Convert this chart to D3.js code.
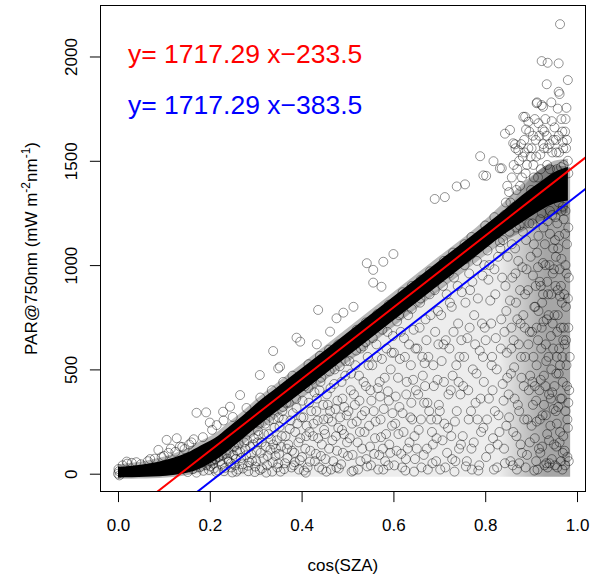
<!DOCTYPE html>
<html>
<head>
<meta charset="utf-8">
<script src="https://cdn.jsdelivr.net/npm/d3@7"></script>
<style>
  body { margin: 0; background: #fff; }
  text { font-family: "Liberation Sans", Arial, Helvetica, sans-serif; }
</style>
</head>
<body>
<div id="chart"></div>
<script>
var xTicks = [0, 0.2, 0.4, 0.6, 0.8, 1.0];
var yTicks = [0, 500, 1000, 1500, 2000];

var slope = 1717.29;
var redIntercept = -233.5;
var blueIntercept = -383.5;

// dense clear-sky ridge (cos(SZA), PAR)
var coreX    = [0, 0.03, 0.06, 0.09, 0.12, 0.15, 0.18, 0.21, 0.24, 0.27, 0.30, 0.35, 0.40, 0.50, 0.60, 0.70, 0.78, 0.84, 0.88, 0.92, 0.95, 0.98];
var coreHigh = [32, 38, 46, 58, 76, 100, 135, 170, 222, 275, 334, 420, 505, 677, 849, 1021, 1158, 1262, 1335, 1400, 1445, 1470];
var coreLow  = [-18, -17, -15, -12, -6, 4, 26, 62, 110, 165, 220, 306, 391, 563, 735, 907, 1044, 1147, 1205, 1262, 1295, 1310];
var haloHigh = [45, 52, 62, 76, 96, 122, 158, 192, 244, 297, 356, 442, 527, 699, 871, 1043, 1180, 1300, 1390, 1460, 1500, 1510];
var haloLow  = [-25, -24, -23, -21, -16, -8, 10, 37, 82, 135, 190, 276, 361, 533, 705, 877, 1014, 1110, 1160, 1210, 1240, 1250];

// overall tone of the cloud below the ridge
var shadeX      = [0.13, 0.2, 0.25, 0.3, 0.4, 0.5, 0.6, 0.7, 0.8, 0.86, 0.9, 0.95, 0.985];
var shadeTop    = [-5, 50, 100, 175, 370, 548, 720, 890, 1050, 1160, 1230, 1290, 1300];
var shadeBottom = [-5, -10, -15, -15, -15, -15, -15, -15, -15, -15, -15, -15, -15];
var denseX      = [0.83, 0.86, 0.9, 0.94, 0.985];
var denseTop    = [1150, 1300, 1420, 1480, 1470];
var denseBottom = [-15, -15, -15, -15, -15];

var cloudBelow = [
  [0.152,8],[0.163,22],[0.171,5],[0.178,30],[0.186,14],[0.193,40],[0.198,18],
  [0.204,62],[0.209,25],[0.214,8],[0.219,80],[0.226,44],[0.231,12],[0.236,95],[0.241,58],[0.247,30],[0.249,6],
  [0.253,128],[0.257,70],[0.262,20],[0.266,105],[0.271,45],[0.275,150],[0.279,88],[0.284,12],[0.288,130],[0.292,62],[0.296,170],[0.299,34],
  [0.302,110],[0.305,205],[0.309,18],[0.313,150],[0.317,72],[0.321,240],[0.325,40],[0.328,190],[0.332,115],[0.336,10],[0.339,262],[0.343,85],[0.346,160],[0.349,48],
  [0.352,225],[0.355,130],[0.358,300],[0.362,22],[0.365,180],[0.369,75],[0.372,340],[0.376,255],[0.379,110],[0.383,40],[0.386,200],[0.389,315],[0.393,150],[0.396,65],[0.399,270],
  [0.402,350],[0.405,15],[0.408,120],[0.411,230],[0.415,410],[0.418,58],[0.421,300],[0.425,180],[0.428,390],[0.431,95],[0.435,255],[0.438,30],[0.441,440],[0.444,140],[0.447,330],[0.449,210],
  [0.452,70],[0.455,380],[0.458,265],[0.461,490],[0.464,20],[0.467,160],[0.471,430],[0.474,310],[0.477,110],[0.48,220],[0.483,515],[0.486,45],[0.489,360],[0.492,190],[0.495,470],[0.498,280],
  [0.501,85],[0.504,540],[0.507,400],[0.51,240],[0.513,15],[0.516,330],[0.519,590],[0.522,150],[0.525,470],[0.528,60],[0.531,280],[0.534,610],[0.537,200],[0.54,420],[0.543,35],[0.546,520],[0.549,130],
  [0.552,350],[0.555,650],[0.558,95],[0.561,250],[0.564,560],[0.567,20],[0.57,440],[0.573,175],[0.576,690],[0.579,310],[0.582,60],[0.585,600],[0.588,395],[0.591,140],[0.594,500],[0.597,230],[0.599,660],
  [0.602,40],[0.605,370],[0.608,730],[0.611,190],[0.614,550],[0.617,95],[0.62,290],[0.623,650],[0.626,15],[0.629,440],[0.632,760],[0.635,150],[0.638,520],[0.641,260],[0.644,690],[0.647,70],[0.649,400],
  [0.652,600],[0.655,210],[0.658,820],[0.661,30],[0.664,470],[0.667,340],[0.67,740],[0.673,120],[0.676,560],[0.679,860],[0.682,260],[0.685,50],[0.688,420],[0.691,680],[0.694,170],[0.697,780],[0.699,330],
  [0.702,20],[0.705,540],[0.708,900],[0.711,240],[0.714,640],[0.717,100],[0.72,380],[0.723,820],[0.726,180],[0.729,470],[0.732,940],[0.735,60],[0.738,300],[0.741,720],[0.744,560],[0.747,140],[0.749,870],
  [0.752,420],[0.755,1000],[0.758,35],[0.761,650],[0.764,260],[0.767,880],[0.77,120],[0.773,500],[0.776,760],[0.779,340],[0.782,1020],[0.785,15],[0.788,590],[0.791,200],[0.794,950],[0.797,440],[0.799,700],
  [0.802,80],[0.805,1070],[0.808,360],[0.811,830],[0.814,520],[0.817,170],[0.82,980],[0.823,650],[0.826,30],[0.829,280],[0.832,1110],[0.835,740],[0.838,430],[0.841,120],[0.844,900],[0.847,580],[0.849,1040],[0.846,230],
  [0.851,380],[0.853,1160],[0.855,60],[0.857,700],[0.859,940],[0.861,200],[0.863,510],[0.865,1080],[0.867,820],[0.869,20],[0.871,330],[0.873,620],[0.875,1190],[0.877,140],[0.879,460],[0.881,990],[0.883,760],[0.885,260],[0.887,560],[0.889,1120],[0.891,90],[0.893,880],[0.895,400],[0.897,680],[0.899,1040],
  [0.901,230],[0.903,1200],[0.905,560],[0.907,15],[0.909,800],[0.911,350],[0.913,1060],[0.915,640],[0.917,120],[0.919,920],[0.921,450],[0.923,1250],[0.925,280],[0.927,730],[0.929,40],[0.931,1000],[0.933,540],[0.935,190],[0.937,860],[0.939,380],[0.941,1150],[0.943,660],[0.945,70],[0.947,960],[0.949,310],
  [0.904,950],[0.908,420],[0.912,700],[0.916,1140],[0.92,100],[0.924,820],[0.928,330],[0.932,620],[0.936,1210],[0.94,50],[0.944,500],[0.948,1080],[0.912,250],[0.926,1010],[0.938,760],[0.946,390],[0.95,980],
  [0.951,760],[0.953,1230],[0.955,480],[0.957,30],[0.959,1080],[0.961,600],[0.963,200],[0.965,900],[0.967,360],[0.969,1280],[0.971,700],[0.973,110],[0.975,1000],[0.977,520],[0.979,260],[0.98,840],[0.981,1180],[0.982,60],[0.978,420],[0.974,1150],[0.97,640],[0.966,1030],[0.962,150],[0.958,880],[0.954,300],[0.952,1120],[0.956,560],[0.976,800],[0.968,20],[0.96,1300]
];

var cloudBelow2 = [
  [0.201,35],[0.207,48],[0.212,70],[0.218,15],[0.223,60],[0.228,88],[0.233,28],[0.238,72],[0.243,100],[0.246,50],
  [0.251,90],[0.255,40],[0.259,110],[0.263,140],[0.268,75],[0.272,25],[0.277,118],[0.281,160],[0.286,55],[0.29,95],[0.294,140],[0.298,8],[0.258,10],[0.283,38],
  [0.301,60],[0.304,150],[0.307,240],[0.311,100],[0.314,25],[0.318,190],[0.322,130],[0.326,85],[0.329,255],[0.333,165],[0.337,55],[0.341,220],[0.344,120],[0.347,30],[0.35,270],[0.323,5],[0.338,140],[0.306,185],
  [0.351,95],[0.354,10],[0.357,180],[0.361,260],[0.364,50],[0.367,340],[0.371,140],[0.374,215],[0.378,30],[0.381,290],[0.384,100],[0.388,360],[0.391,240],[0.394,20],[0.397,170],[0.368,120],[0.385,55],[0.359,320],
  [0.401,80],[0.404,270],[0.407,420],[0.41,180],[0.413,30],[0.416,340],[0.419,110],[0.423,450],[0.426,240],[0.429,60],[0.432,300],[0.436,170],[0.439,400],[0.442,85],[0.445,20],[0.448,260],[0.417,200],[0.433,360],[0.409,5],[0.443,460],
  [0.451,190],[0.454,10],[0.457,330],[0.46,120],[0.463,410],[0.466,250],[0.469,60],[0.472,500],[0.475,180],[0.478,350],[0.481,25],[0.484,270],[0.487,440],[0.49,100],[0.493,320],[0.496,540],[0.499,150],[0.462,300],[0.476,30],[0.488,210],
  [0.502,300],[0.505,170],[0.508,480],[0.511,90],[0.514,380],[0.517,520],[0.52,250],[0.523,20],[0.526,350],[0.529,600],[0.532,120],[0.535,440],[0.538,300],[0.541,70],[0.544,560],[0.547,230],[0.55,400],[0.509,10],[0.527,200],[0.539,630],
  [0.551,40],[0.554,520],[0.557,300],[0.56,170],[0.563,620],[0.566,410],[0.569,90],[0.572,260],[0.575,550],[0.578,20],[0.581,460],[0.584,190],[0.587,680],[0.59,350],[0.593,100],[0.596,580],[0.598,290],[0.562,710],[0.577,120],[0.589,40],[0.571,370],
  [0.601,580],[0.604,240],[0.607,110],[0.61,460],[0.613,320],[0.616,680],[0.619,30],[0.622,200],[0.625,560],[0.628,380],[0.631,120],[0.634,620],[0.637,270],[0.64,790],[0.643,450],[0.646,180],[0.648,600],[0.612,760],[0.627,70],[0.639,340],[0.645,10],
  [0.651,120],[0.654,380],[0.657,700],[0.66,260],[0.663,560],[0.666,90],[0.669,420],[0.672,640],[0.675,20],[0.678,300],[0.681,760],[0.684,200],[0.687,520],[0.69,880],[0.693,60],[0.696,450],[0.698,620],[0.659,840],[0.674,340],[0.686,140],[0.695,260],[0.668,530],
  [0.701,300],[0.704,760],[0.707,160],[0.71,440],[0.713,30],[0.716,860],[0.719,220],[0.722,600],[0.725,400],[0.728,70],[0.731,680],[0.734,250],[0.737,520],[0.74,900],[0.743,120],[0.746,380],[0.748,640],[0.709,620],[0.721,960],[0.733,10],[0.742,440],[0.727,800],
  [0.751,180],[0.754,560],[0.757,820],[0.76,60],[0.763,400],[0.766,700],[0.769,300],[0.772,920],[0.775,150],[0.778,620],[0.781,480],[0.784,840],[0.787,40],[0.79,360],[0.793,720],[0.796,220],[0.798,1000],[0.759,1030],[0.771,20],[0.783,260],[0.795,560],[0.765,960],
  [0.801,640],[0.804,260],[0.807,930],[0.81,120],[0.813,720],[0.816,400],[0.819,20],[0.822,860],[0.825,500],[0.828,1040],[0.831,200],[0.834,600],[0.837,940],[0.84,350],[0.843,50],[0.846,780],[0.848,460],[0.809,1000],[0.821,300],[0.833,1080],[0.842,680],[0.815,560],[0.827,140],[0.839,1120],
  [0.852,270],[0.854,830],[0.856,480],[0.858,1100],[0.86,40],[0.862,640],[0.864,360],[0.866,960],[0.868,180],[0.87,740],[0.872,1020],[0.874,300],[0.876,880],[0.878,560],[0.88,100],[0.882,1160],[0.884,420],[0.886,700],[0.888,30],[0.89,980],[0.892,260],[0.894,620],[0.896,1200],[0.898,470],[0.857,600],[0.867,1180],[0.877,720],[0.887,860],[0.897,150],[0.874,50],
  [0.902,680],[0.904,330],[0.906,1100],[0.908,170],[0.91,900],[0.912,520],[0.914,20],[0.916,780],[0.918,400],[0.92,1220],[0.922,600],[0.924,130],[0.926,860],[0.928,470],[0.93,1100],[0.932,280],[0.934,740],[0.936,30],[0.938,560],[0.94,1000],
  [0.942,230],[0.944,860],[0.946,1240],[0.948,600],[0.95,140],[0.903,440],[0.907,800],[0.911,60],[0.915,990],[0.919,260],[0.923,700],[0.927,1180],[0.931,420],[0.935,920],[0.939,160],[0.943,360],[0.947,720],[0.921,900],[0.933,50],[0.941,1260],
  [0.951,420],[0.953,900],[0.955,130],[0.957,680],[0.959,320],[0.961,1140],[0.963,520],[0.965,60],[0.967,820],[0.969,440],[0.971,1220],[0.973,620],[0.975,300],[0.977,960],[0.979,80],[0.981,700],[0.983,400],[0.952,40],[0.954,1040],[0.956,240],
  [0.958,760],[0.96,480],[0.962,980],[0.964,360],[0.966,1260],[0.968,560],[0.97,180],[0.972,860],[0.974,40],[0.976,640],[0.978,1100],[0.98,220],[0.982,940],[0.984,560],[0.957,1200],[0.963,850],[0.969,100],[0.975,1260],[0.981,340],[0.965,700]
];

var bandEdge = [
  [0,0],[0.002,12],[0.003,-8],[0.001,22],[0.01,40],[0.02,48],[0.03,52],[0.04,55],[0.05,45],[0.065,60],[0.07,70],[0.08,72],[0.095,80],[0.1,85],[0.11,100],[0.115,120],[0.125,105],[0.135,130],[0.14,128],[0.145,118],
  [0.155,140],[0.16,150],[0.165,165],[0.185,175],[0.205,210],[0.23,255],[0.25,272],[0.28,315],[0.31,365],[0.335,400],[0.36,440],[0.38,470],[0.415,525],[0.44,565],[0.46,595],[0.48,620],
  [0.52,690],[0.54,725],[0.565,765],[0.59,810],[0.62,870],[0.64,900],[0.66,930],[0.68,970],[0.71,1020],[0.73,1060],[0.755,1100],[0.77,1135],[0.8,1190],[0.82,1230],
  [0.845,1300],[0.852,1350],[0.858,1420],[0.864,1280],[0.87,1460],[0.876,1380],[0.882,1520],[0.888,1440],[0.894,1560],[0.9,1360],[0.905,1480],[0.91,1600],[0.915,1420],[0.92,1530],[0.925,1650],
  [0.93,1380],[0.935,1480],[0.94,1580],[0.945,1690],[0.95,1420],[0.955,1540],[0.96,1620],[0.965,1470],[0.97,1560],[0.975,1700],[0.98,1500],[0.908,1700],[0.918,1620],[0.928,1560],[0.948,1600],
  [0.958,1750],[0.968,1640],[0.978,1600],[0.885,1600],[0.872,1550],
  [0.842,1240],[0.848,1380],[0.855,1300],[0.862,1480],[0.868,1360],[0.874,1500],[0.88,1420],[0.886,1540],[0.891,1480],[0.896,1640],[0.901,1560],[0.906,1420],[0.911,1520],[0.916,1680],[0.921,1460],
  [0.926,1580],[0.931,1700],[0.936,1560],[0.941,1460],[0.946,1540],[0.951,1660],[0.956,1460],[0.961,1540],[0.966,1700],[0.971,1480],[0.976,1560],[0.981,1440],[0.913,1780],[0.929,1640],[0.944,1780],
  [0.962,1820],[0.974,1640],[0.899,1520],[0.889,1650],[0.878,1580],[0.866,1560],[0.904,1620],[0.934,1620],[0.954,1600],[0.969,1590]
];

var outliers = [
  [0.019,58],[0.088,114],[0.106,162],[0.128,170],[0.171,292],[0.192,294],[0.2,245],[0.215,233],[0.229,297],[0.244,321],[0.266,377],[0.309,473],[0.338,588],[0.349,505],[0.353,513],
  [0.389,652],[0.397,633],[0.433,620],[0.436,785],[0.462,681],[0.476,745],[0.491,772],[0.513,800],[0.542,1009],[0.556,977],[0.578,1016],[0.6,1053],[0.556,916],[0.574,896],
  [0.69,1317],[0.712,1326],[0.738,1377],[0.756,1387],[0.789,1522],[0.796,1430],[0.802,1428],[0.818,1498],[0.832,1464],[0.836,1464],[0.843,1630],[0.854,1648],[0.861,1584],[0.865,1579],
  [0.883,1711],[0.887,1711],[0.894,1687],[0.912,1776],[0.923,1767],[0.926,1759],[0.934,1867],[0.923,1978],[0.936,1970],[0.96,1967],[0.96,1831],[0.977,1754],[0.98,1887],[0.963,2155]
];

var width = 592, height = 581;
var box = {left: 100, right: 585.7, top: 5.7, bottom: 491.3};

var svg = d3.select("#chart")
            .append("svg")
            .attr("width", width)
            .attr("height", height);

var x = d3.scaleLinear().domain([-0.0392, 1.0189]).range([box.left, box.right]);
var y = d3.scaleLinear().domain([-84.4, 2243.5]).range([box.bottom, box.top]);

var defs = svg.append("defs");
defs.append("clipPath")
    .attr("id", "plot-clip")
  .append("rect")
    .attr("x", box.left)
    .attr("y", box.top)
    .attr("width", box.right - box.left)
    .attr("height", box.bottom - box.top);

// the right-hand cloud darkens gradually towards cos(SZA) ~ 0.93
var grad = defs.append("linearGradient")
    .attr("id", "dense-fade")
    .attr("gradientUnits", "userSpaceOnUse")
    .attr("x1", x(0.83)).attr("x2", x(0.93))
    .attr("y1", 0).attr("y2", 0);
grad.append("stop").attr("offset", 0).attr("stop-color", "#000").attr("stop-opacity", 0);
grad.append("stop").attr("offset", 1).attr("stop-color", "#000").attr("stop-opacity", 0.3);

var plot = svg.append("g").attr("clip-path", "url(#plot-clip)");

function band(xs, lo, hi) {
  return d3.area()
           .x((d, i) => x(xs[i]))
           .y0((d, i) => y(lo[i]))
           .y1((d, i) => y(hi[i]))
           .curve(d3.curveMonotoneX)(xs);
}

plot.append("path").attr("d", band(shadeX, shadeBottom, shadeTop)).attr("fill", "#000").attr("fill-opacity", 0.07);
plot.append("path").attr("d", band(denseX, denseBottom, denseTop)).attr("fill", "url(#dense-fade)");

plot.append("g")
    .selectAll("circle")
    .data(cloudBelow.concat(cloudBelow2, bandEdge, outliers))
  .enter().append("circle")
    .attr("cx", d => x(d[0]))
    .attr("cy", d => y(d[1]))
    .attr("r", 4.5)
    .attr("fill", "none")
    .attr("stroke", "#000")
    .attr("stroke-opacity", 0.42)
    .attr("stroke-width", 1);

plot.append("path").attr("d", band(coreX, haloLow, haloHigh)).attr("fill", "#000").attr("fill-opacity", 0.28);
plot.append("path").attr("d", band(coreX, coreLow, coreHigh)).attr("fill", "#000");

var fits = [
  {b: redIntercept, color: "#ff0000"},
  {b: blueIntercept, color: "#0000ff"}
];
var xd = x.domain();
plot.selectAll(".fit")
    .data(fits)
  .enter().append("line")
    .attr("class", "fit")
    .attr("x1", x(xd[0]))
    .attr("x2", x(xd[1]))
    .attr("y1", d => y(slope * xd[0] + d.b))
    .attr("y2", d => y(slope * xd[1] + d.b))
    .attr("stroke", d => d.color)
    .attr("stroke-width", 2);

// axes
var xAxis = svg.append("g")
    .attr("transform", "translate(0," + 491.5 + ")")
    .call(d3.axisBottom(x).tickValues(xTicks).tickFormat(d3.format(".1f")).tickSize(10.6).tickPadding(17));
xAxis.select(".domain").remove();
xAxis.selectAll("text").attr("font-size", 17).attr("fill", "#000").style("font-family", "Liberation Sans, Arial, sans-serif");

var yAxis = svg.append("g")
    .attr("transform", "translate(" + 100.5 + ",0)")
    .call(d3.axisLeft(y).tickValues(yTicks).tickFormat(d3.format("d")).tickSize(10.6));
yAxis.select(".domain").remove();
yAxis.selectAll("text")
     .attr("x", 0)
     .attr("dy", 0)
     .attr("text-anchor", "middle")
     .attr("transform", "translate(-24,0) rotate(-90)")
     .attr("font-size", 17)
     .attr("fill", "#000")
     .style("font-family", "Liberation Sans, Arial, sans-serif");

svg.append("rect")
    .attr("x", 100.5)
    .attr("y", 5.5)
    .attr("width", 485)
    .attr("height", 486)
    .attr("fill", "none")
    .attr("stroke", "#000")
    .attr("stroke-width", 1);

svg.append("text")
    .attr("x", (box.left + box.right) / 2)
    .attr("y", 571)
    .attr("text-anchor", "middle")
    .attr("font-size", 17)
    .text("cos(SZA)");

var yt = svg.append("text")
    .attr("transform", "translate(36.5," + (box.top + box.bottom) / 2 + ") rotate(-90)")
    .attr("text-anchor", "middle")
    .attr("font-size", 17);
yt.append("tspan").text("PAR@750nm (mW m");
yt.append("tspan").attr("dy", -7).attr("font-size", 12).text("-2");
yt.append("tspan").attr("dy", 7).text("nm");
yt.append("tspan").attr("dy", -7).attr("font-size", 12).text("-1");
yt.append("tspan").attr("dy", 7).text(")");

var eqs = [
  {label: "y= " + slope + " x\u2212" + (-redIntercept).toFixed(1), color: "#ff0000", y: 62.5},
  {label: "y= " + slope + " x\u2212" + (-blueIntercept).toFixed(1), color: "#0000ff", y: 113.5}
];
svg.selectAll(".eq")
    .data(eqs)
  .enter().append("text")
    .attr("class", "eq")
    .attr("x", 128)
    .attr("y", d => d.y)
    .attr("font-size", 26.5)
    .attr("fill", d => d.color)
    .text(d => d.label);
</script>
</body>
</html>
